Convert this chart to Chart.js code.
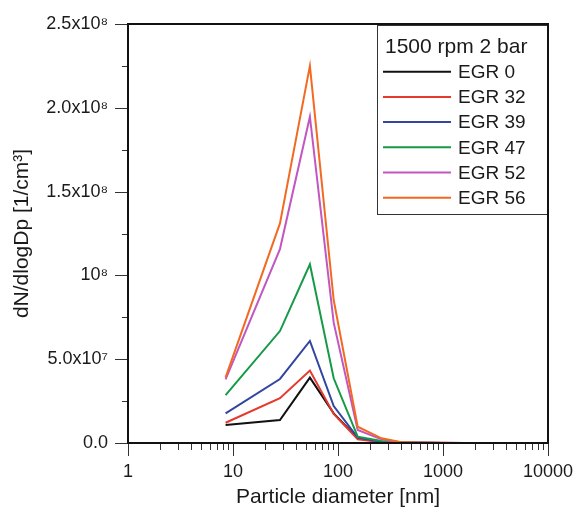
<!DOCTYPE html>
<html>
<head>
<meta charset="utf-8">
<script src="https://cdn.jsdelivr.net/npm/chart.js@4/dist/chart.umd.min.js"></script>
<style>
  html, body { margin: 0; padding: 0; background: #fff; }
  #wrap { width: 580px; height: 510px; }
</style>
</head>
<body>
<div id="wrap"><canvas id="c" width="580" height="510"></canvas></div>
<script>
// Particle diameters [nm]
const diameters = [8.5, 28, 54, 91, 154, 260, 390, 600, 1000, 1600, 2500, 4000];

// dN/dlogDp [1/cm^3]
const egr0  = [1.07e7, 1.37e7, 3.90e7, 1.77e7, 0.28e7, 0.06e7, 0.03e7, 0.01e7, 0, 0, 0, 0];
const egr32 = [1.21e7, 2.67e7, 4.32e7, 1.73e7, 0.22e7, 0.05e7, 0.03e7, 0.01e7, 0, 0, 0, 0];
const egr39 = [1.77e7, 3.82e7, 6.09e7, 2.20e7, 0.32e7, 0.08e7, 0.03e7, 0.01e7, 0, 0, 0, 0];
const egr47 = [2.86e7, 6.68e7, 1.066e8, 3.86e7, 0.38e7, 0.12e7, 0.04e7, 0.01e7, 0, 0, 0, 0];
const egr52 = [3.80e7, 1.157e8, 1.947e8, 7.18e7, 0.78e7, 0.22e7, 0.05e7, 0.02e7, 0.01e7, 0, 0, 0];
const egr56 = [3.92e7, 1.31e8, 2.25e8, 8.53e7, 0.97e7, 0.28e7, 0.06e7, 0.02e7, 0.01e7, 0, 0, 0];

const seriesLabels = ['EGR 0', 'EGR 32', 'EGR 39', 'EGR 47', 'EGR 52', 'EGR 56'];
const seriesValues = [egr0, egr32, egr39, egr47, egr52, egr56];
const seriesColors = ['#111111', '#e5392d', '#3246a0', '#179a47', '#c257c2', '#f26a21'];

const legendTitle = '1500 rpm 2 bar';
const xTickValues = [1, 10, 100, 1000, 10000];
const xTickLabels = ['1', '10', '100', '1000', '10000'];
const yTickValues = [0, 0.5e8, 1.0e8, 1.5e8, 2.0e8, 2.5e8];
const yTickLabels = ['0.0', '5.0x10\u2077', '10\u2078', '1.5x10\u2078', '2.0x10\u2078', '2.5x10\u2078'];
const yMinorValues = [0.25e8, 0.75e8, 1.25e8, 1.75e8, 2.25e8];

const FONT = '"Liberation Sans", Arial, Helvetica, sans-serif';

const datasets = seriesLabels.map((lab, i) => ({
  label: lab,
  data: diameters.map((d, j) => ({ x: d, y: seriesValues[i][j] })),
  borderColor: seriesColors[i],
  backgroundColor: seriesColors[i],
  borderWidth: 2,
  pointRadius: 0,
  showLine: true,
  tension: 0,
  order: seriesLabels.length - i
}));

const framePlugin = {
  id: 'frame',
  afterDatasetsDraw(chart) {
    const ctx = chart.ctx;
    const a = chart.chartArea;
    const xs = chart.scales.x, ys = chart.scales.y;
    ctx.save();
    ctx.strokeStyle = '#333';
    ctx.lineWidth = 1;
    ctx.beginPath();
    for (let e = 0; e < 4; e++) {
      for (let m = 1; m <= 9; m++) {
        const v = m * Math.pow(10, e);
        const px = Math.round(xs.getPixelForValue(v)) + 0.5;
        const len = m === 1 ? 13 : 7;
        ctx.moveTo(px, a.bottom);
        ctx.lineTo(px, a.bottom + len);
      }
    }
    const pxEnd = Math.round(xs.getPixelForValue(10000)) + 0.5;
    ctx.moveTo(pxEnd, a.bottom);
    ctx.lineTo(pxEnd, a.bottom + 13);
    yTickValues.forEach(v => {
      const py = Math.round(ys.getPixelForValue(v)) + 0.5;
      ctx.moveTo(a.left, py);
      ctx.lineTo(a.left - 13, py);
    });
    yMinorValues.forEach(v => {
      const py = Math.round(ys.getPixelForValue(v)) + 0.5;
      ctx.moveTo(a.left, py);
      ctx.lineTo(a.left - 6, py);
    });
    ctx.stroke();
    ctx.strokeStyle = '#111';
    ctx.lineWidth = 2;
    ctx.strokeRect(a.left, a.top, a.right - a.left, a.bottom - a.top);
    ctx.restore();
  },
  afterDraw(chart) {
    const ctx = chart.ctx;
    const a = chart.chartArea;
    ctx.save();
    const bx = 377, by = 25, bw = a.right - 377, bh = 189;
    ctx.fillStyle = '#fff';
    ctx.fillRect(bx, by, bw, bh);
    ctx.strokeStyle = '#333';
    ctx.lineWidth = 1;
    ctx.strokeRect(bx + 0.5, by + 0.5, bw, bh);
    ctx.strokeStyle = '#111';
    ctx.lineWidth = 2;
    ctx.beginPath();
    ctx.moveTo(a.right, a.top);
    ctx.lineTo(a.right, by + bh + 2);
    ctx.stroke();
    ctx.fillStyle = '#1a1a1a';
    ctx.textBaseline = 'middle';
    ctx.textAlign = 'left';
    ctx.font = '21px ' + FONT;
    ctx.fillText(legendTitle, 385, 47);
    ctx.font = '19px ' + FONT;
    chart.data.datasets.forEach((ds, i) => {
      const y = 71.7 + i * 25.2;
      ctx.strokeStyle = ds.borderColor;
      ctx.lineWidth = 2;
      ctx.beginPath();
      ctx.moveTo(383, y);
      ctx.lineTo(451, y);
      ctx.stroke();
      ctx.fillStyle = '#1a1a1a';
      ctx.fillText(ds.label, 458, y + 1);
    });
    ctx.restore();
  }
};

new Chart(document.getElementById('c'), {
  type: 'scatter',
  data: { datasets },
  options: {
    responsive: false,
    animation: false,
    devicePixelRatio: 1,
    layout: { padding: { top: 24, right: 32, left: 0, bottom: 0 } },
    plugins: { legend: { display: false }, tooltip: { enabled: false } },
    scales: {
      x: {
        type: 'logarithmic',
        min: 1, max: 10000,
        grid: { display: false, drawTicks: false },
        border: { display: false },
        afterBuildTicks: (s) => { s.ticks = xTickValues.map(v => ({ value: v })); },
        afterFit: (s) => { s.height = 67; s.paddingLeft = 0; s.paddingRight = 0; },
        ticks: {
          autoSkip: false, maxRotation: 0, padding: 18,
          color: '#1a1a1a',
          font: { family: FONT, size: 18 },
          callback: (v) => { const k = xTickValues.indexOf(v); return k >= 0 ? xTickLabels[k] : ''; }
        },
        title: {
          display: true, text: 'Particle diameter [nm]', color: '#1a1a1a',
          font: { family: FONT, size: 21 }, padding: { top: 0, bottom: 0 }
        }
      },
      y: {
        type: 'linear',
        min: 0, max: 2.5e8,
        grid: { display: false, drawTicks: false },
        border: { display: false },
        afterBuildTicks: (s) => { s.ticks = yTickValues.map(v => ({ value: v })); },
        afterFit: (s) => { s.width = 128; s.paddingTop = 0; s.paddingBottom = 0; },
        ticks: {
          autoSkip: false, padding: 20,
          color: '#1a1a1a',
          font: { family: FONT, size: 18 },
          callback: (v) => { const k = yTickValues.indexOf(v); return k >= 0 ? yTickLabels[k] : ''; }
        },
        title: {
          display: true, text: 'dN/dlogDp [1/cm\u00b3]', color: '#1a1a1a',
          font: { family: FONT, size: 21 }, padding: { top: 10, bottom: 0 }
        }
      }
    }
  },
  plugins: [framePlugin]
});
</script>
</body>
</html>
